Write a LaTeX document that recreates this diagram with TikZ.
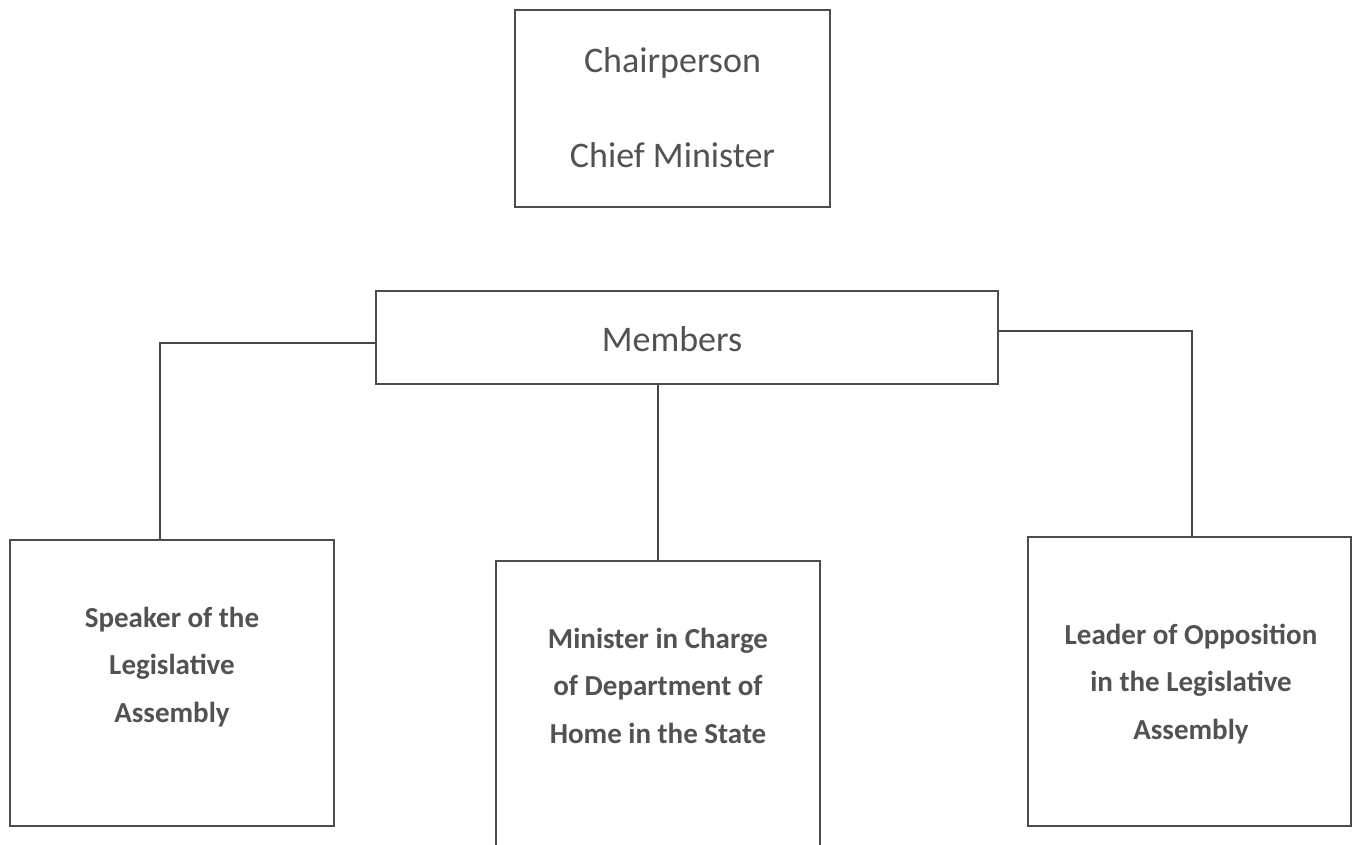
\documentclass[tikz,border=0pt]{standalone}
\usepackage{fontspec}
\setmainfont{Carlito}
\begin{document}
\begin{tikzpicture}[x=1pt,y=-1pt,
  box/.style={draw=black!70,line width=1.1pt,rectangle,inner sep=0pt},
  bigtxt/.style={text=black!68,align=center,font=\fontsize{36}{95}\selectfont},
  memtxt/.style={text=black!68,font=\fontsize{36}{40}\selectfont},
  smalltxt/.style={text=black!68,align=center,font=\fontsize{29}{47.5}\selectfont\bfseries},
  conn/.style={draw=black!72,line width=2pt}]
\clip (0,0) rectangle (1358,844);
\fill[white] (0,0) rectangle (1358,844);
% boxes
\node[box,minimum width=315pt,minimum height=197pt] (chair) at (672.5,108.5) {};
\node[bigtxt] (chairt) at (672.5,108) {Chairperson\\Chief Minister};
\node[box,minimum width=622pt,minimum height=93pt] (mem) at (687,337.5) {};
\node[memtxt] (memt) at (672,339) {Members};
\node[box,minimum width=324pt,minimum height=286pt] (spk) at (172,683) {};
\node[smalltxt] (spkt) at (172,667) {Speaker of the\\Legislative\\Assembly};
\node[box,minimum width=324pt,minimum height=310pt] (mins) at (658,716) {};
\node[smalltxt] (minst) at (658,685.5) {Minister in Charge\\of Department of\\Home in the State};
\node[box,minimum width=323pt,minimum height=289pt] (lead) at (1189.5,681.5) {};
\node[smalltxt] (leadt) at (1191,684) {Leader of Opposition\\in the Legislative\\Assembly};
% connectors
\coordinate (lc) at (160,343);
\coordinate (rc) at (1192,331);
\draw[conn] (mem.west |- lc) -- (lc) -- (lc |- spk.north);
\draw[conn] (mem.south -| mins.north) -- (mins.north);
\draw[conn] (mem.east |- rc) -- (rc) -- (rc |- lead.north);
\end{tikzpicture}
\end{document}
